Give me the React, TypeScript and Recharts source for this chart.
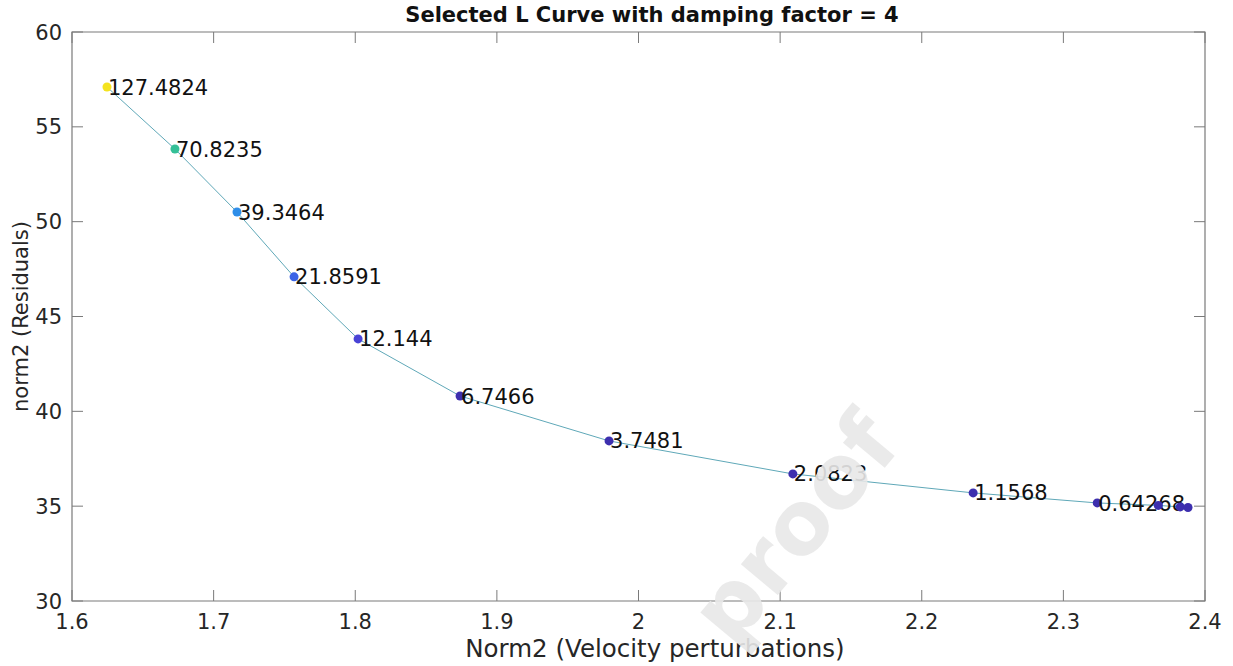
import {
  ScatterChart,
  Scatter,
  XAxis,
  YAxis,
  Cell,
  Label,
  ReferenceArea,
} from "recharts";

// model norm vs residual norm for each damping value
const modelNorm = [
  1.6247, 1.6727, 1.7165, 1.7568, 1.802, 1.874, 1.9792, 2.109, 2.2363,
  2.3239, 2.367, 2.3825, 2.388,
];
const residualNorm = [
  57.1, 53.83, 50.51, 47.09, 43.82, 40.81, 38.44, 36.7, 35.7, 35.17, 35.04,
  34.96, 34.93,
];
const dampingLabels = [
  "127.4824",
  "70.8235",
  "39.3464",
  "21.8591",
  "12.144",
  "6.7466",
  "3.7481",
  "2.0823",
  "1.1568",
  "0.64268",
  "",
  "",
  "",
];
const pointColors = [
  "#f4e31f",
  "#35c097",
  "#2f8ee8",
  "#3b63e6",
  "#4943d6",
  "#3d2fae",
  "#3d2fae",
  "#3d2fae",
  "#3d2fae",
  "#3d2fae",
  "#3d2fae",
  "#3d2fae",
  "#3d2fae",
];
const xTicks = [1.6, 1.7, 1.8, 1.9, 2, 2.1, 2.2, 2.3, 2.4];
const yTicks = [30, 35, 40, 45, 50, 55, 60];

const W = 1233;
const H = 666;
const LEFT = 72;
const RIGHT = 28;
const TOP = 32;
const BOTTOM = 65;
const PLOT_W = W - LEFT - RIGHT;
const PLOT_H = H - TOP - BOTTOM;
const TICK_LEN = 11;
const AXIS_COLOR = "#7a7a7a";
const TEXT_COLOR = "#262626";
const FONT = "'DejaVu Sans', sans-serif";

const data = modelNorm.map((x, i) => ({
  x,
  y: residualNorm[i],
  label: dampingLabels[i],
}));

function XTick(props: any) {
  const { x, y, payload } = props;
  return (
    <g>
      <line x1={x} y1={y} x2={x} y2={y - TICK_LEN} stroke={AXIS_COLOR} />
      <line
        x1={x}
        y1={y - PLOT_H}
        x2={x}
        y2={y - PLOT_H + TICK_LEN}
        stroke={AXIS_COLOR}
      />
      <text
        x={x}
        y={y + 28}
        textAnchor="middle"
        fontSize={21}
        fontFamily={FONT}
        fill={TEXT_COLOR}
      >
        {payload.value}
      </text>
    </g>
  );
}

function YTick(props: any) {
  const { x, y, payload } = props;
  return (
    <g>
      <line x1={x} y1={y} x2={x + TICK_LEN} y2={y} stroke={AXIS_COLOR} />
      <line
        x1={x + PLOT_W}
        y1={y}
        x2={x + PLOT_W - TICK_LEN}
        y2={y}
        stroke={AXIS_COLOR}
      />
      <text
        x={x - 10}
        y={y}
        dy="0.36em"
        textAnchor="end"
        fontSize={21}
        fontFamily={FONT}
        fill={TEXT_COLOR}
      >
        {payload.value}
      </text>
    </g>
  );
}

// dot plus its damping value written just to the right
function PointWithLabel(props: any) {
  const { cx, cy, fill, payload } = props;
  return (
    <g>
      <circle cx={cx} cy={cy} r={4.5} fill={fill} />
      {payload.label && (
        <text
          x={cx + 1}
          y={cy}
          dy="0.36em"
          fontSize={21}
          fontFamily={FONT}
          fill="#111"
        >
          {payload.label}
        </text>
      )}
    </g>
  );
}

export default function App() {
  return (
    <div
      style={{
        position: "absolute",
        left: 0,
        top: 0,
        width: W,
        height: H,
        background: "#fff",
        overflow: "hidden",
      }}
    >
      <div
        style={{
          position: "absolute",
          left: 0,
          width: W,
          top: 3,
          textAlign: "center",
          paddingLeft: 71,
          boxSizing: "border-box",
          fontFamily: FONT,
          fontWeight: "bold",
          fontSize: 21,
          color: "#111",
        }}
      >
        Selected L Curve with damping factor = 4
      </div>

      <ScatterChart
        width={W}
        height={H}
        margin={{ top: TOP, right: RIGHT, left: 0, bottom: 0 }}
      >
        <XAxis
          type="number"
          dataKey="x"
          domain={[1.6, 2.4]}
          ticks={xTicks}
          allowDataOverflow
          height={BOTTOM}
          tickSize={0}
          tickMargin={0}
          tickLine={false}
          axisLine={false}
          tick={<XTick />}
          interval={0}
        >
          <Label
            content={(p: any) => (
              <text
                x={655}
                y={p.viewBox.y + 56}
                textAnchor="middle"
                fontSize={24.5}
                fontFamily={FONT}
                fill={TEXT_COLOR}
              >
                Norm2 (Velocity perturbations)
              </text>
            )}
          />
        </XAxis>
        <YAxis
          type="number"
          dataKey="y"
          domain={[30, 60]}
          ticks={yTicks}
          allowDataOverflow
          width={LEFT}
          tickSize={0}
          tickMargin={0}
          tickLine={false}
          axisLine={false}
          tick={<YTick />}
          interval={0}
        >
          <Label
            content={(p: any) => {
              const cx = 20;
              const cy = p.viewBox.y + p.viewBox.height / 2;
              return (
                <text
                  x={cx}
                  y={cy}
                  dy="0.36em"
                  textAnchor="middle"
                  transform={`rotate(-90 ${cx} ${cy})`}
                  fontSize={21}
                  fontFamily={FONT}
                  fill={TEXT_COLOR}
                >
                  norm2 (Residuals)
                </text>
              );
            }}
          />
        </YAxis>
        <ReferenceArea
          x1={1.6}
          x2={2.4}
          y1={30}
          y2={60}
          fill="none"
          stroke={AXIS_COLOR}
          strokeWidth={1.2}
          ifOverflow="visible"
        />
        <Scatter
          data={data}
          line={{ stroke: "#5fa8b8", strokeWidth: 1 }}
          shape={<PointWithLabel />}
          isAnimationActive={false}
        >
          {data.map((_, i) => (
            <Cell key={i} fill={pointColors[i]} />
          ))}
        </Scatter>
      </ScatterChart>

      {/* faint diagonal watermark */}
      <div
        style={{
          position: "absolute",
          left: 795,
          top: 528,
          transform: "translate(-50%, -50%) rotate(-50deg)",
          fontFamily: FONT,
          fontWeight: "bold",
          fontSize: 88,
          color: "rgba(232,232,232,0.9)",
          whiteSpace: "nowrap",
          pointerEvents: "none",
          lineHeight: 1,
        }}
      >
        proof
      </div>
    </div>
  );
}
